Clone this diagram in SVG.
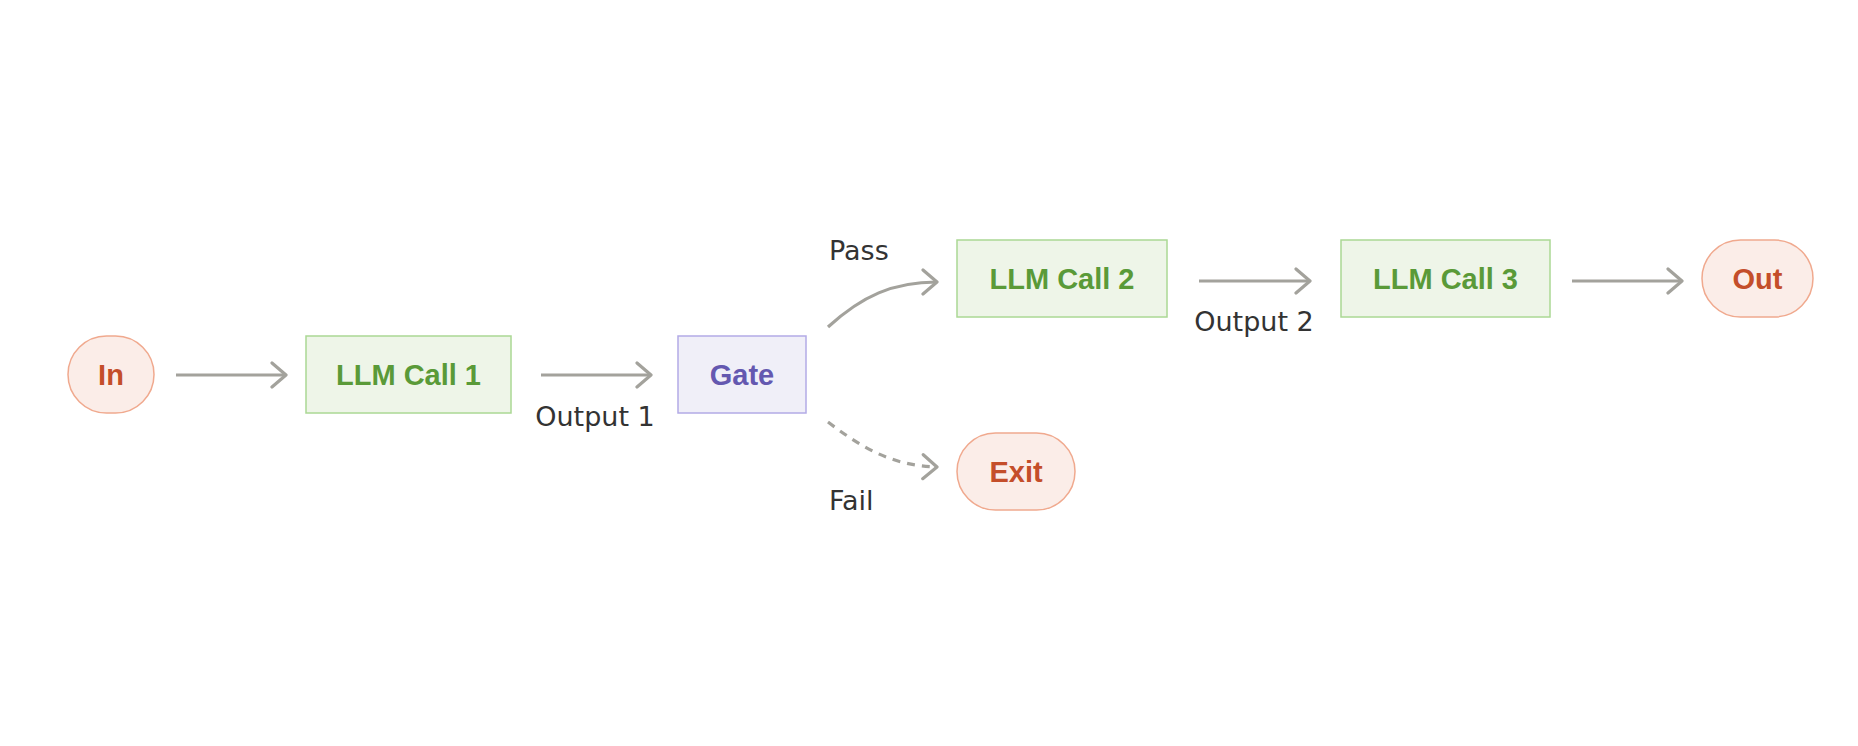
<svg xmlns="http://www.w3.org/2000/svg" width="1858" height="746" viewBox="0 0 1858 746">
<defs>
<marker id="chev" viewBox="-16 -15 19 30" markerWidth="19" markerHeight="30" refX="0" refY="0" orient="auto" markerUnits="userSpaceOnUse">
<path d="M-14,-12 L0,0 L-14,12" fill="none" stroke="#a3a29c" stroke-width="3.2" stroke-linecap="round" stroke-linejoin="round"/>
</marker>
<style>
.conn{fill:none;stroke:#a3a29c;stroke-width:3.2;marker-end:url(#chev)}
.dash{stroke-dasharray:8 7}
.green rect{fill:#eef5e8;stroke:#abd894;stroke-width:1.5}
.green text{fill:#5a9a38}
.purple rect{fill:#f0eff8;stroke:#b3abe6;stroke-width:1.5}
.purple text{fill:#6458b0}
.term rect{fill:#fbede8;stroke:#f0a98e;stroke-width:1.5}
.term text{fill:#c44e2a}
.node text{font-family:"Liberation Sans",Arial,sans-serif;font-weight:bold;font-size:29px;text-anchor:middle}
.lbl{font-family:"DejaVu Sans",sans-serif;font-size:27px;fill:#333333}
</style>
</defs>
<rect width="1858" height="746" fill="#ffffff"/>
<g id="connectors">
<line class="conn" x1="176" y1="375" x2="286" y2="375"/>
<line class="conn" x1="541" y1="375" x2="651" y2="375"/>
<path class="conn" d="M828,327 C862,296 893,282 937,282"/>
<path class="conn dash" d="M828,422 C862,448 893,466 937,467"/>
<line class="conn" x1="1199" y1="281" x2="1310" y2="281"/>
<line class="conn" x1="1572" y1="281" x2="1682" y2="281"/>
<text class="lbl" x="595" y="426" text-anchor="middle">Output 1</text>
<text class="lbl" x="1254" y="331" text-anchor="middle">Output 2</text>
<text class="lbl" x="829" y="260">Pass</text>
<text class="lbl" x="829" y="510">Fail</text>
</g>
<g id="in" class="node term">
<rect x="68" y="336" width="86" height="77" rx="38.5"/>
<text x="111" y="385">In</text>
</g>
<g id="llm1" class="node green">
<rect x="306" y="336" width="205" height="77"/>
<text x="408.5" y="385">LLM Call 1</text>
</g>
<g id="gate" class="node purple">
<rect x="678" y="336" width="128" height="77"/>
<text x="742" y="385">Gate</text>
</g>
<g id="llm2" class="node green">
<rect x="957" y="240" width="210" height="77"/>
<text x="1062" y="289">LLM Call 2</text>
</g>
<g id="llm3" class="node green">
<rect x="1341" y="240" width="209" height="77"/>
<text x="1445.5" y="289">LLM Call 3</text>
</g>
<g id="out" class="node term">
<rect x="1702" y="240" width="111" height="77" rx="38.5"/>
<text x="1757.5" y="289">Out</text>
</g>
<g id="exit" class="node term">
<rect x="957" y="433" width="118" height="77" rx="38.5"/>
<text x="1016" y="482">Exit</text>
</g>
</svg>
